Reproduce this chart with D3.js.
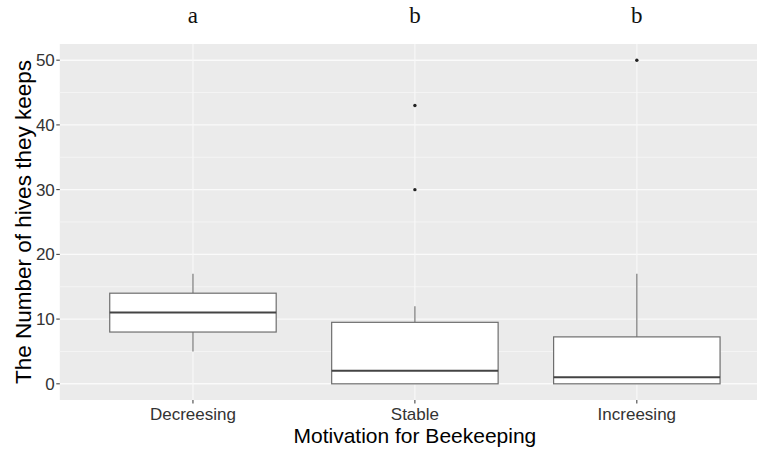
<!DOCTYPE html>
<html>
<head>
<meta charset="utf-8">
<script src="https://cdn.jsdelivr.net/npm/d3@7"></script>
<style>
  body { margin: 0; background: #fff; }
  svg { display: block; font-family: "Liberation Sans", Arial, sans-serif; }
</style>
</head>
<body>
<svg id="chart" width="757" height="450"></svg>
<script>
// categories and box stats
const categories = ["Decreesing", "Stable", "Increesing"];
const lowerWhisker = [5, 0, 0];
const q1 = [8, 0, 0];
const median = [11, 2, 1];
const q3 = [14, 9.5, 7.25];
const upperWhisker = [17, 12, 17];
const outliers = [[], [30, 43], [50]];
const groupLetters = ["a", "b", "b"];
const yTicks = [0, 10, 20, 30, 40, 50];
const yMinor = [5, 15, 25, 35, 45];

const svg = d3.select("#chart");
const panelLeft = 59.8, panelTop = 44, panelBottom = 400, panelRight = 770;

// ggplot style discrete scale: 0.6 unit padding each side
const x = d3.scaleLinear().domain([0.4, 3.6]).range([panelLeft, panelRight]);
const y = d3.scaleLinear().domain([-2.5, 52.5]).range([panelBottom, panelTop]);
const boxW = x(1.375) - x(1);

const data = categories.map((c, i) => ({
  cat: c, pos: i + 1,
  lo: lowerWhisker[i], q1: q1[i], med: median[i], q3: q3[i], hi: upperWhisker[i],
  out: outliers[i], letter: groupLetters[i]
}));

// panel background
svg.append("rect")
  .attr("x", panelLeft).attr("y", panelTop)
  .attr("width", panelRight - panelLeft).attr("height", panelBottom - panelTop)
  .attr("fill", "#ebebeb");

// grid lines
svg.selectAll("line.minor").data(yMinor).enter().append("line")
  .attr("x1", panelLeft).attr("x2", panelRight)
  .attr("y1", d => y(d)).attr("y2", d => y(d))
  .attr("stroke", "#f4f4f4").attr("stroke-width", 1);
svg.selectAll("line.major").data(yTicks).enter().append("line")
  .attr("x1", panelLeft).attr("x2", panelRight)
  .attr("y1", d => y(d)).attr("y2", d => y(d))
  .attr("stroke", "#fafafa").attr("stroke-width", 1.4);
svg.selectAll("line.vmajor").data(data).enter().append("line")
  .attr("x1", d => x(d.pos)).attr("x2", d => x(d.pos))
  .attr("y1", panelTop).attr("y2", panelBottom)
  .attr("stroke", "#f8f8f8").attr("stroke-width", 1.2);

// boxes
const g = svg.selectAll("g.box").data(data).enter().append("g");
g.append("line")
  .attr("x1", d => x(d.pos)).attr("x2", d => x(d.pos))
  .attr("y1", d => y(d.hi)).attr("y2", d => y(d.q3))
  .attr("stroke", "#7a7a7a").attr("stroke-width", 1.2);
g.append("line")
  .attr("x1", d => x(d.pos)).attr("x2", d => x(d.pos))
  .attr("y1", d => y(d.q1)).attr("y2", d => y(d.lo))
  .attr("stroke", "#7a7a7a").attr("stroke-width", 1.2);
g.append("rect")
  .attr("x", d => x(d.pos) - boxW).attr("width", boxW * 2)
  .attr("y", d => y(d.q3)).attr("height", d => y(d.q1) - y(d.q3))
  .attr("fill", "#fff").attr("stroke", "#6e6e6e").attr("stroke-width", 1.2);
g.append("line")
  .attr("x1", d => x(d.pos) - boxW).attr("x2", d => x(d.pos) + boxW)
  .attr("y1", d => y(d.med)).attr("y2", d => y(d.med))
  .attr("stroke", "#444").attr("stroke-width", 2);
g.selectAll("circle").data(d => d.out.map(v => ({pos: d.pos, v}))).enter().append("circle")
  .attr("cx", d => x(d.pos)).attr("cy", d => y(d.v)).attr("r", 1.7)
  .attr("fill", "#222");

// significance letters
svg.selectAll("text.letter").data(data).enter().append("text")
  .attr("x", d => x(d.pos)).attr("y", 23)
  .attr("text-anchor", "middle")
  .style("font-family", "'Liberation Serif', 'DejaVu Serif', serif")
  .style("font-size", "23px").attr("fill", "#111")
  .text(d => d.letter);

// y axis
svg.selectAll("line.ytick").data(yTicks).enter().append("line")
  .attr("x1", panelLeft - 3.5).attr("x2", panelLeft)
  .attr("y1", d => y(d)).attr("y2", d => y(d))
  .attr("stroke", "#333").attr("stroke-width", 1);
svg.selectAll("text.ylab").data(yTicks).enter().append("text")
  .attr("x", panelLeft - 5).attr("y", d => y(d)).attr("dy", "0.36em")
  .attr("text-anchor", "end").style("font-size", "17px").attr("fill", "#333")
  .text(d => d);

// x axis
svg.selectAll("line.xtick").data(data).enter().append("line")
  .attr("x1", d => x(d.pos)).attr("x2", d => x(d.pos))
  .attr("y1", panelBottom).attr("y2", panelBottom + 3.5)
  .attr("stroke", "#333").attr("stroke-width", 1);
svg.selectAll("text.xlab").data(data).enter().append("text")
  .attr("x", d => x(d.pos)).attr("y", 420)
  .attr("text-anchor", "middle").style("font-size", "17px").attr("fill", "#333")
  .text(d => d.cat);

// axis titles
svg.append("text")
  .attr("x", (panelLeft + panelRight) / 2).attr("y", 443)
  .attr("text-anchor", "middle").style("font-size", "21px").attr("fill", "#000")
  .text("Motivation for Beekeeping");
svg.append("text")
  .attr("transform", `translate(31,${(panelTop + panelBottom) / 2}) rotate(-90)`)
  .attr("text-anchor", "middle").style("font-size", "22.5px").attr("fill", "#000")
  .text("The Number of hives they keeps");
</script>
</body>
</html>
